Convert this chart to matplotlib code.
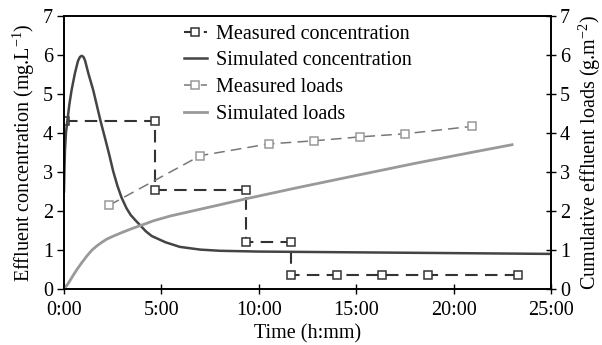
import matplotlib
matplotlib.use("Agg")
import matplotlib.pyplot as plt

font = {'family': 'Liberation Serif', 'size': 14.5}
matplotlib.rc('font', **font)
matplotlib.rc('mathtext', fontset='custom', rm='Liberation Serif', it='Liberation Serif:italic')

# measured concentration (time in hours)
meas_c_t = [0.05, 4.67, 4.67, 9.33, 9.33, 11.67, 11.67, 14.0, 16.33, 18.67, 23.33]
meas_c_v = [4.3, 4.3, 2.55, 2.55, 1.2, 1.2, 0.35, 0.35, 0.35, 0.35, 0.35]

# simulated concentration
sim_c_t = [0, 0.02, 0.05, 0.1, 0.17, 0.28, 0.39, 0.56, 0.72, 0.82, 0.91, 1.0, 1.08, 1.25, 1.5,
           1.88, 2.1, 2.32, 2.52, 2.74, 2.95, 3.2, 3.42, 3.67, 3.9, 4.2, 4.5, 5.2, 5.95,
           7.0, 8.0, 10, 15, 20, 25]
sim_c_v = [2.5, 3.0, 3.56, 4.0, 4.3, 4.75, 5.1, 5.53, 5.85, 5.95, 5.98, 5.95, 5.86, 5.53, 5.1,
           4.3, 3.88, 3.45, 3.03, 2.65, 2.35, 2.08, 1.9, 1.76, 1.64, 1.48, 1.36, 1.2, 1.08,
           1.01, 0.98, 0.96, 0.94, 0.92, 0.9]

# measured loads
meas_l_t = [2.33, 7.0, 10.5, 12.83, 15.17, 17.5, 20.95]
meas_l_v = [2.15, 3.42, 3.72, 3.8, 3.9, 3.98, 4.17]

# simulated loads
sim_l_t = [0, 0.2, 0.41, 0.65, 0.92, 1.18, 1.44, 1.7, 1.95, 2.2, 2.46, 2.98, 3.49, 4.0,
           4.6, 5.44, 6.5, 8.0, 9.4, 12, 14.7, 18, 21, 23]
sim_l_v = [0, 0.13, 0.3, 0.49, 0.68, 0.85, 1.0, 1.11, 1.2, 1.28, 1.34, 1.45, 1.55, 1.64,
           1.75, 1.87, 1.99, 2.16, 2.32, 2.6, 2.88, 3.22, 3.51, 3.7]

xticks = [0, 5, 10, 15, 20, 25]
xtick_labels = ["0:00", "5:00", "10:00", "15:00", "20:00", "25:00"]

fig = plt.figure(figsize=(6.02, 3.45), dpi=100)
ax = fig.add_axes([0.1063, 0.1623, 0.809, 0.7913])
ax2 = ax.twinx()

l1, = ax.plot(meas_c_t, meas_c_v, color="#333333", lw=1.5, dashes=(6, 3.5),
              marker="s", ms=5.5, mfc="white", mec="#333333", mew=1.1)
l2, = ax.plot(sim_c_t, sim_c_v, color="#444444", lw=1.8)
l3, = ax2.plot(meas_l_t, meas_l_v, color="#777777", lw=1.1, dashes=(7, 4),
               marker="s", ms=5.5, mfc="white", mec="#999999", mew=1.1)
l4, = ax2.plot(sim_l_t, sim_l_v, color="#999999", lw=2.0)

ax.set_xlim(0, 25)
ax.set_ylim(0, 7)
ax2.set_ylim(0, 7)
ax.set_xticks(xticks)
ax.set_xticklabels(xtick_labels)
ax.set_yticks(range(8))
ax2.set_yticks(range(8))

ax.tick_params(axis='x', direction='inout', length=7, width=1, pad=5)
ax.tick_params(axis='y', direction='out', length=5, width=1, pad=3)
ax2.tick_params(axis='y', direction='inout', length=7, width=1, pad=3)
for a in (ax, ax2):
    for s in a.spines.values():
        s.set_linewidth(1.2)

ax.set_xlabel("Time (h:mm)", labelpad=3)
ax.set_ylabel("Effluent concentration (mg.L$^{-1}$)", labelpad=4)
ax2.set_ylabel("Cumulative effluent loads (g.m$^{-2}$)", labelpad=5)

ax.legend([l1, l2, l3, l4],
          ["Measured concentration", "Simulated concentration", "Measured loads", "Simulated loads"],
          loc="upper left", bbox_to_anchor=(0.217, 1.02), frameon=False,
          handlelength=1.15, handletextpad=0.45, labelspacing=0.38, borderpad=0.2)

fig.savefig("out.png", dpi=100)
